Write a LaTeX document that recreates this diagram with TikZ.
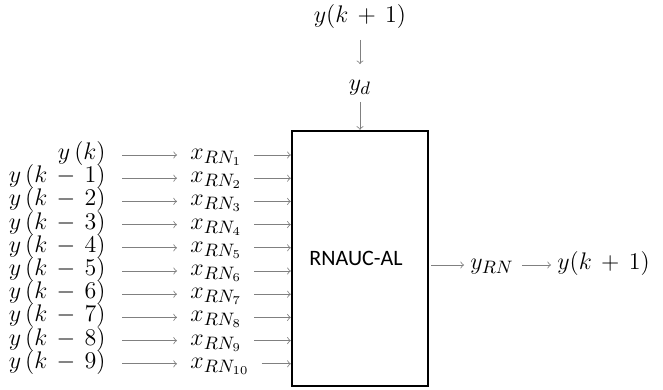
\documentclass[tikz,border=0pt]{standalone}
\usepackage{fontspec}
\newfontfamily\blockfont{Carlito}
\newcommand\widemath{\medmuskip=7mu\relax}
\begin{document}
\begin{tikzpicture}[x=0.5pt, y=-0.5pt, >=to,
    sig/.style={font=\fontsize{13}{15}\selectfont, inner sep=1pt, text height=7pt, text depth=2.5pt},
    flow/.style={->, draw=gray, thin}]
  \useasboundingbox (0,0) rectangle (663,390);

  % RNAUC-AL block
  \node[draw, line width=1.2pt, minimum width=68pt, minimum height=127.5pt,
        font=\blockfont\fontsize{11}{13}\selectfont] (block) at (360,258.5) {RNAUC-AL\hspace*{4pt}};

  % Delayed outputs feeding the block
  \foreach \i in {0,...,9}{
    \pgfmathtruncatemacro\n{\i+1}
    \node[sig, anchor=east] (y\i) at (108,155+23.2*\i)
      {\widemath$\ifnum\i=0 y\,(k)\else y\,(k-\i)\fi$};
    \node[sig, anchor=west] (x\i) at (188,155+23.2*\i) {$x_{RN_{\n}}$};
    \draw[flow, shorten <=7pt, shorten >=5.5pt] (y\i.east) -- (x\i.west);
    \draw[flow, shorten <=5pt] (x\i.east) -- (x\i.east -| block.west);
  }

  % Desired output from the top
  \node[sig] (ytop) at (360,18) {\widemath$y(k+1)$};
  \node[sig] (yd) at (360,86) {$y_d$};
  \draw[flow, shorten <=5pt, shorten >=5pt] (ytop) -- (yd);
  \draw[flow, shorten <=2pt] (yd) -- (block.north);

  % Network output
  \node[sig, anchor=west] (yrn) at (468,265) {$y_{RN}$};
  \node[sig, anchor=west] (yout) at (555,265) {\widemath$y(k+1)$};
  \draw[flow, shorten <=1pt, shorten >=2pt] (yrn.west -| block.east) -- (yrn.west);
  \draw[flow, shorten <=3pt, shorten >=2pt] (yrn.east) -- (yout.west);
\end{tikzpicture}
\end{document}
